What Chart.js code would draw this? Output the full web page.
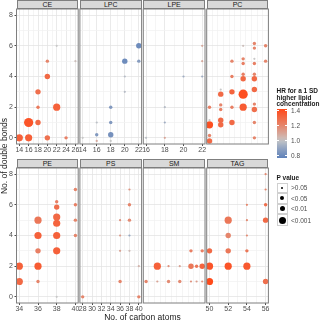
<!DOCTYPE html>
<html>
<head>
<meta charset="utf-8">
<script src="https://cdn.jsdelivr.net/npm/chart.js@4.4.0/dist/chart.umd.min.js"></script>
<style>
body { margin: 0; background: #fff; }
#wrap { position: relative; width: 320px; height: 323px; overflow: hidden; font-family: "Liberation Sans", Arial, sans-serif; }
#wrap canvas { position: absolute; left: 0; top: 0; }
.strip { position: absolute; box-sizing: border-box; background: #d9d9d9; border: 1px solid #7f7f7f; font-size: 7px; color: #1a1a1a; text-align: center; }
.txt { position: absolute; white-space: nowrap; }
.key { position: absolute; box-sizing: border-box; background: #fff; border: 1px solid #d0d0d0; }
.dot { position: absolute; background: #000; border-radius: 50%; }
</style>
</head>
<body>
<div id="wrap"></div>
<script>
/* lipid class panels: carbon atoms, double bonds, HR, p-value level (1 = >0.05 ... 4 = <0.001, 5 = very small p) */
var ceCarbon = [14, 16, 20, 24, 16, 18, 18, 22, 18, 20, 20, 26, 22];
var ceBonds  = [0, 0, 0, 0, 1, 1, 2, 2, 3, 4, 5, 5, 6];
var ceHR     = [1.33, 1.34, 1.27, 1.22, 1.38, 1.3, 1.24, 1.33, 1.28, 1.3, 1.2, 1.02, 1.0];
var ceP      = [4, 4, 3, 2, 5, 3, 2, 4, 3, 3, 2, 1, 1];

var lpcCarbon = [14, 16, 16, 18, 18, 16, 18, 18, 20, 20, 20, 22, 22];
var lpcBonds  = [0, 0.2, -0.2, 0.2, -0.2, 1, 1, 2, 3, 4, 5, 5, 6];
var lpcHR     = [1.0, 0.85, 1.08, 0.82, 1.0, 0.98, 0.85, 0.85, 0.97, 0.97, 0.8, 0.86, 0.8];
var lpcP      = [1, 2, 1, 3, 1, 1, 2, 2, 1, 1, 3, 2, 3];

var lpeCarbon = [16, 18, 18, 18, 20, 22, 22, 22];
var lpeBonds  = [0, 0, 1, 2, 4, 4, 5, 6];
var lpeHR     = [0.98, 1.1, 0.92, 0.97, 0.92, 0.92, 1.08, 1.08];
var lpeP      = [1, 1, 1, 1, 1, 1, 1, 1];

var pcCarbon = [32, 32, 32, 32, 32, 34, 34, 34, 34, 34, 34, 36, 36, 36, 36, 36,
                38, 38, 38, 38, 38, 38, 38, 40, 40, 40, 40, 40, 40, 40, 40, 40, 40, 40, 42, 42];
var pcBonds  = [-0.2, 0.15, 0.85, 1.15, 2, 0.85, 1.15, 1.85, 2.15, 2.85, 3.15, 1, 2, 3, 4, 5,
                2, 2.85, 3.85, 4.15, 4.85, 5.15, 6, 0, 1, 1.85, 2.2, 3.15, 3.85, 4.15, 4.85, 5.15, 5.85, 6.15, 5, 6];
var pcHR     = [1.3, 1.2, 1.4, 1.0, 1.22, 1.3, 1.3, 1.22, 1.2, 1.3, 1.0, 1.3, 1.22, 1.32, 1.22, 1.2,
                1.35, 1.4, 1.3, 1.22, 1.22, 1.2, 1.02, 1.2, 1.2, 1.28, 1.2, 1.3, 1.3, 1.2, 1.22, 1.0, 1.2, 1.2, 1.2, 1.2];
var pcP      = [3, 2, 4, 1, 2, 3, 3, 2, 2, 3, 1, 3, 2, 3, 2, 2,
                4, 5, 3, 2, 2, 2, 1, 2, 2, 3, 2, 3, 3, 2, 2, 1, 2, 2, 2, 2];

var peCarbon = [34, 34, 36, 36, 36, 36, 36, 38, 38, 38, 38, 38, 38, 38, 40, 40, 40, 40];
var peBonds  = [1, 2, 1, 2, 3, 4, 5, 0, 3, 4, 4.8, 5.2, 5.85, 6.2, 4, 5, 6, 7];
var peHR     = [1.3, 1.33, 1.2, 1.35, 1.22, 1.33, 1.25, 1.0, 1.33, 1.33, 1.32, 1.3, 1.28, 1.22, 1.2, 1.2, 1.22, 1.2];
var peP      = [4, 4, 2, 4, 3, 4, 4, 1, 4, 4, 4, 4, 3, 2, 2, 2, 2, 2];

var psCarbon = [28, 40, 36, 40, 36, 38, 36, 38, 36, 38, 38, 38];
var psBonds  = [0, 0, 1, 2, 3, 3, 4, 4, 5, 5, 6, 7];
var psHR     = [1.2, 1.2, 1.2, 1.05, 1.1, 1.03, 1.12, 0.9, 1.15, 1.18, 1.2, 1.15];
var psP      = [2, 2, 2, 1, 1, 1, 1, 1, 1, 2, 2, 1];

var smCarbon = [32, 34, 36, 38, 40, 41, 42, 34, 36, 38, 40, 41, 42, 40, 42];
var smBonds  = [1, 1, 1, 1, 1, 1, 1, 2, 2, 2, 2, 2, 2, 3, 3];
var smHR     = [1.2, 1.1, 1.18, 1.18, 1.15, 1.12, 1.15, 1.33, 1.15, 1.1, 1.25, 1.25, 1.32, 1.22, 1.22];
var smP      = [2, 1, 2, 2, 1, 1, 1, 4, 1, 1, 3, 2, 3, 2, 2];

var tagCarbon = [50, 56, 50, 52, 54, 50, 52, 54, 52, 54, 52, 54, 56, 54, 56, 56, 56];
var tagBonds  = [1, 1, 2, 2, 2, 3, 3, 3, 4, 4, 5, 5, 5, 6, 6, 7, 8];
var tagHR     = [1.42, 1.28, 1.38, 1.38, 1.36, 1.3, 1.25, 1.25, 1.2, 1.18, 1.25, 1.18, 1.3, 1.2, 1.28, 1.2, 1.18];
var tagP      = [4, 3, 4, 4, 4, 3, 3, 2, 3, 1, 4, 1, 3, 1, 2, 1, 1];

var bondRange = [0, 8];
var hrTicks = [1.4, 1.2, 1.0, 0.8];
var hrLimits = [0.76, 1.42];
var pLabels = ['>0.05', '<0.05', '<0.01', '<0.001'];

var panels = [
    { name: 'CE',  carbon: ceCarbon,  bonds: ceBonds,  hr: ceHR,  p: ceP },
    { name: 'LPC', carbon: lpcCarbon, bonds: lpcBonds, hr: lpcHR, p: lpcP },
    { name: 'LPE', carbon: lpeCarbon, bonds: lpeBonds, hr: lpeHR, p: lpeP },
    { name: 'PC',  carbon: pcCarbon,  bonds: pcBonds,  hr: pcHR,  p: pcP },
    { name: 'PE',  carbon: peCarbon,  bonds: peBonds,  hr: peHR,  p: peP },
    { name: 'PS',  carbon: psCarbon,  bonds: psBonds,  hr: psHR,  p: psP },
    { name: 'SM',  carbon: smCarbon,  bonds: smBonds,  hr: smHR,  p: smP },
    { name: 'TAG', carbon: tagCarbon, bonds: tagBonds, hr: tagHR, p: tagP }
];

// layout
var W = 320, H = 323;
var colLeft = [16.5, 79.9, 143.3, 206.7];
var panelW = 61.7;
var rowTop = [9, 168];
var panelH = 135;
var stripH = 9;
var xAxisH = 12, yAxisW = 12;
var dotR = [0, 1.1, 1.7, 2.7, 3.6, 4.6];
var keyR = [1.0, 2.0, 2.7, 3.5];
var FONT = '"Liberation Sans", Arial, sans-serif';

var wrap = document.getElementById('wrap');

function hrColour(v) {
    var grey = [200, 200, 200], red = [255, 74, 26], blue = [95, 130, 186];
    var c, t;
    if (v >= 1) { c = red; t = Math.min((v - 1) / 0.42, 1); }
    else { c = blue; t = Math.min((1 - v) / 0.24, 1); }
    t = Math.pow(t, 0.85);
    var out = [0, 1, 2].map(function (i) { return Math.round(grey[i] + (c[i] - grey[i]) * t); });
    return 'rgb(' + out.join(',') + ')';
}

var panelBox = {
    id: 'panelBox',
    afterDraw: function (chart) {
        var a = chart.chartArea, ctx = chart.ctx;
        ctx.save();
        ctx.strokeStyle = '#7f7f7f';
        ctx.lineWidth = 1;
        ctx.strokeRect(a.left, a.top, a.right - a.left, a.bottom - a.top);
        ctx.restore();
    }
};

function gridColour(ctx) {
    if (!ctx.tick) return '#ebebeb';
    return Math.abs(ctx.tick.value % 2) < 1e-6 ? '#e4e4e4' : '#f2f2f2';
}
function tickColour(ctx) {
    if (!ctx.tick) return '#333';
    return Math.abs(ctx.tick.value % 2) < 1e-6 ? '#4d4d4d' : 'rgba(0,0,0,0)';
}
function evenLabel(v) { return Math.abs(v % 2) < 1e-6 ? v : ''; }

function addText(str, x, y, css) {
    var d = document.createElement('div');
    d.className = 'txt';
    d.textContent = str;
    d.style.left = x + 'px';
    d.style.top = y + 'px';
    for (var k in css) d.style[k] = css[k];
    wrap.appendChild(d);
    return d;
}

panels.forEach(function (p, idx) {
    var col = idx % 4, row = Math.floor(idx / 4);
    var left = colLeft[col], top = rowTop[row];
    var xmin = Math.min.apply(null, p.carbon), xmax = Math.max.apply(null, p.carbon);
    var span = xmax - xmin;
    var ySpan = bondRange[1] - bondRange[0];
    var firstCol = col === 0;

    // strip
    var s = document.createElement('div');
    s.className = 'strip';
    s.style.left = left + 'px';
    s.style.top = (top - stripH) + 'px';
    s.style.width = panelW + 'px';
    s.style.height = stripH + 'px';
    s.style.lineHeight = (stripH - 1) + 'px';
    s.textContent = p.name;
    wrap.appendChild(s);

    var canvas = document.createElement('canvas');
    canvas.width = W;
    canvas.height = H;
    wrap.appendChild(canvas);

    new Chart(canvas.getContext('2d'), {
        type: 'scatter',
        data: {
            datasets: [{
                data: p.carbon.map(function (c, i) { return { x: c, y: p.bonds[i] }; }),
                pointRadius: function (ctx) { return dotR[p.p[ctx.dataIndex]]; },
                pointHoverRadius: function (ctx) { return dotR[p.p[ctx.dataIndex]]; },
                pointBackgroundColor: function (ctx) { return hrColour(p.hr[ctx.dataIndex]); },
                pointBorderWidth: 0
            }]
        },
        options: {
            responsive: false,
            animation: false,
            devicePixelRatio: 1,
            events: [],
            layout: {
                padding: {
                    left: left - (firstCol ? yAxisW : 0),
                    right: W - left - panelW,
                    top: top,
                    bottom: H - top - panelH - xAxisH
                }
            },
            plugins: { legend: { display: false }, tooltip: { enabled: false } },
            scales: {
                x: {
                    type: 'linear',
                    min: xmin - span * 0.05,
                    max: xmax + span * 0.05,
                    afterFit: function (scale) { scale.height = xAxisH; },
                    border: { display: false },
                    grid: { color: gridColour, lineWidth: 0.8, tickLength: 2, tickColor: tickColour, tickWidth: 1 },
                    ticks: {
                        stepSize: 1, autoSkip: false, maxRotation: 0, minRotation: 0,
                        includeBounds: false, padding: 0,
                        color: '#4d4d4d', font: { size: 7, family: FONT },
                        callback: evenLabel
                    }
                },
                y: {
                    type: 'linear',
                    min: bondRange[0] - ySpan * 0.05,
                    max: bondRange[1] + ySpan * 0.05,
                    afterFit: function (scale) { scale.width = firstCol ? yAxisW : 0; },
                    border: { display: false },
                    grid: { color: gridColour, lineWidth: 0.8, drawTicks: firstCol, tickLength: 2, tickColor: tickColour, tickWidth: 1 },
                    ticks: {
                        display: firstCol,
                        stepSize: 1, autoSkip: false, includeBounds: false, padding: 1.5,
                        color: '#4d4d4d', font: { size: 7, family: FONT },
                        callback: evenLabel
                    }
                }
            }
        },
        plugins: [panelBox]
    });
});

// axis titles
addText('No. of carbon atoms', colLeft[0], 312, { width: (colLeft[3] + panelW - colLeft[0]) + 'px', textAlign: 'center', fontSize: '8.5px', color: '#1a1a1a' });
addText('No. of double bonds', -46, 151, { width: '100px', textAlign: 'center', fontSize: '8.5px', color: '#1a1a1a', transform: 'rotate(-90deg)' });

// colour legend
var lx = 276.5;
['HR for a 1 SD', 'higher lipid', 'concentration'].forEach(function (t, i) {
    addText(t, lx, 87 + i * 6.7, { fontSize: '6.5px', fontWeight: 'bold', color: '#1a1a1a', lineHeight: '7px' });
});
var barTop = 109, barH = 49;
var stops = [];
for (var i = 0; i <= 12; i++) {
    var v = hrLimits[1] - (hrLimits[1] - hrLimits[0]) * i / 12;
    stops.push(hrColour(v) + ' ' + (i / 12 * 100).toFixed(1) + '%');
}
var bar = document.createElement('div');
bar.style.cssText = 'position:absolute;left:277px;top:' + barTop + 'px;width:10px;height:' + barH + 'px;background:linear-gradient(to bottom,' + stops.join(',') + ');';
wrap.appendChild(bar);
hrTicks.forEach(function (v) {
    var y = barTop + (hrLimits[1] - v) / (hrLimits[1] - hrLimits[0]) * barH;
    addText(v.toFixed(1), 291, y - 3.5, { fontSize: '6.5px', color: '#4d4d4d', lineHeight: '7px' });
    var t1 = document.createElement('div');
    t1.style.cssText = 'position:absolute;left:277px;top:' + (y - 0.5) + 'px;width:2px;height:1px;background:#fff;';
    wrap.appendChild(t1);
    var t2 = document.createElement('div');
    t2.style.cssText = 'position:absolute;left:285px;top:' + (y - 0.5) + 'px;width:2px;height:1px;background:#fff;';
    wrap.appendChild(t2);
});

// p value legend
addText('P value', lx, 174, { fontSize: '6.5px', fontWeight: 'bold', color: '#1a1a1a', lineHeight: '7px' });
var keyTop = [182.5, 193, 203.5, 214], keyH = [10.5, 10.5, 10.5, 12];
pLabels.forEach(function (lab, i) {
    var k = document.createElement('div');
    k.className = 'key';
    k.style.left = '276.5px';
    k.style.top = keyTop[i] + 'px';
    k.style.width = '11.5px';
    k.style.height = keyH[i] + 'px';
    wrap.appendChild(k);
    var cy = keyTop[i] + keyH[i] / 2, r = keyR[i];
    var d = document.createElement('div');
    d.className = 'dot';
    d.style.left = (282.25 - r) + 'px';
    d.style.top = (cy - r) + 'px';
    d.style.width = (2 * r) + 'px';
    d.style.height = (2 * r) + 'px';
    wrap.appendChild(d);
    addText(lab, 291, cy - 3.5, { fontSize: '6.5px', color: '#4d4d4d', lineHeight: '7px' });
});
</script>
</body>
</html>
